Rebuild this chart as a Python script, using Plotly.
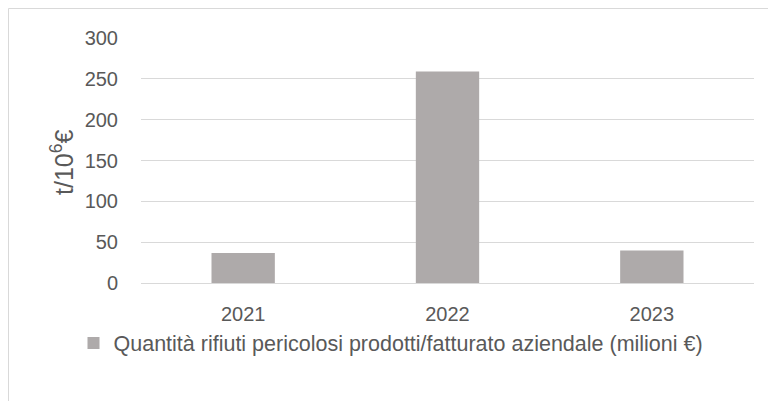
import plotly.graph_objects as go

categories = ["2021", "2022", "2023"]
values = [36.7, 259, 39.9]
series_name = "Quantità rifiuti pericolosi prodotti/fatturato aziendale (milioni €)"
y_ticks = [0, 50, 100, 150, 200, 250, 300]

FONT = "Liberation Sans, Arial"
TXT = "#595959"

# page body has an 8px margin: screen = fig + 8
OFF = 8
W, H = 776, 401
L, R, T, B = 141 - OFF, W - (754 - OFF), 38 - OFF, H - (283 - OFF)
pw, ph = W - L - R, H - T - B

def px(x):  # screen x -> paper
    return (x - OFF - L) / pw

def py(y):  # screen y -> paper
    return (H - B - (y - OFF)) / ph

fig = go.Figure()
fig.add_trace(go.Bar(x=categories, y=values, name=series_name,
                     marker=dict(color="#aeaaaa", line=dict(width=0)),
                     width=0.31, showlegend=True))

fig.update_layout(
    width=W, height=H,
    margin=dict(l=L, r=R, t=T, b=B),
    paper_bgcolor="white", plot_bgcolor="white",
    font=dict(family=FONT, size=20, color=TXT),
    showlegend=True,
    legend=dict(orientation="h", x=px(391), xanchor="center", y=py(343), yanchor="middle",
                font=dict(family=FONT, size=21.5, color=TXT), itemwidth=30),
    xaxis=dict(showgrid=False, showline=False, ticks="", ticklabelstandoff=17,
               tickfont=dict(family=FONT, size=20, color=TXT)),
    yaxis=dict(range=[0, 300], tickvals=y_ticks, showgrid=True, gridcolor="#d9d9d9",
               gridwidth=1.3, zeroline=True, zerolinecolor="#d9d9d9", zerolinewidth=1.3,
               showline=False, ticks="", ticklabelstandoff=22,
               tickfont=dict(family=FONT, size=20, color=TXT)),
)

fig.add_annotation(text="t/10<sup>6</sup>€", xref="paper", yref="paper",
                   x=px(62), y=py(163), textangle=-90, showarrow=False,
                   xanchor="center", yanchor="middle",
                   font=dict(family=FONT, size=25, color=TXT))

fig.add_shape(type="rect", xref="paper", yref="paper",
              x0=px(8.5), x1=px(800), y0=py(430), y1=py(8.5),
              line=dict(color="#d9d9d9", width=1), fillcolor="rgba(0,0,0,0)",
              layer="below")

fig.write_html("out.html")
